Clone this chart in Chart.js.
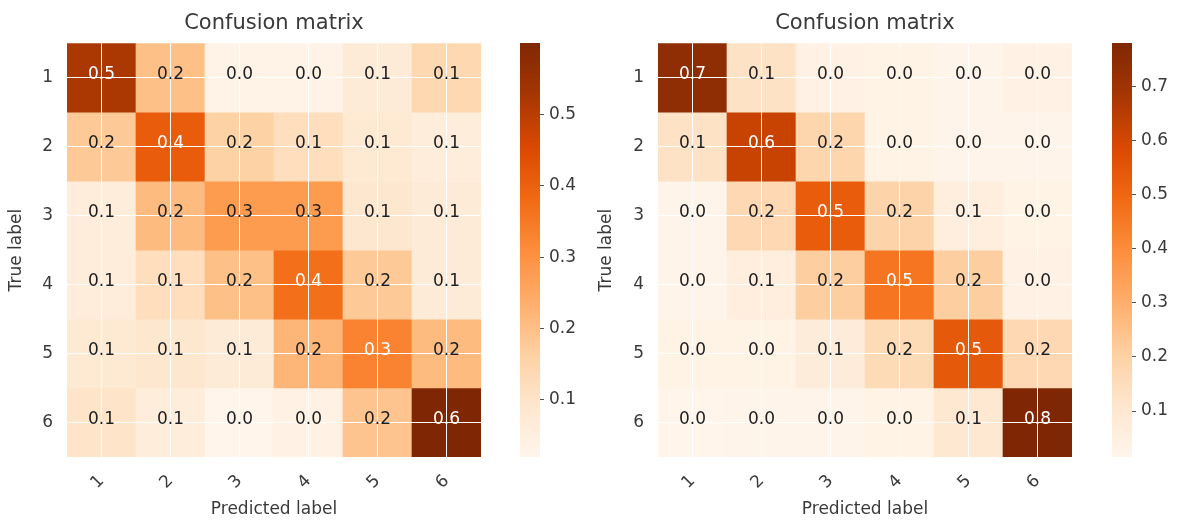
<!DOCTYPE html>
<html lang="en">
<head>
<meta charset="utf-8">
<title>Confusion matrix</title>
<script src="https://cdn.jsdelivr.net/npm/chart.js@4.4.1/dist/chart.umd.min.js"></script>
<style>
  html, body { margin: 0; padding: 0; background: #fff; }
  #wrap { position: relative; width: 1177px; height: 520px; overflow: hidden; }
  .box { position: absolute; top: 0; height: 520px; }
</style>
</head>
<body>
<div id="wrap">
  <div class="box" style="left:0;width:548px"><canvas id="cmLeft"></canvas></div>
  <div class="box" style="left:590px;width:550px"><canvas id="cmRight"></canvas></div>
  <div class="box" style="left:500px;width:85px"><canvas id="cbLeft"></canvas></div>
  <div class="box" style="left:1090px;width:87px"><canvas id="cbRight"></canvas></div>
</div>
<script>
// ======================= DATA =======================
const classLabels = ['1', '2', '3', '4', '5', '6'];
const titleText = 'Confusion matrix';
const xAxisLabel = 'Predicted label';
const yAxisLabel = 'True label';

// rows = true label, columns = predicted label (normalized)
const cmLeft = [
  [0.52, 0.20, 0.03, 0.03, 0.07, 0.14],
  [0.18, 0.41, 0.16, 0.12, 0.08, 0.06],
  [0.06, 0.21, 0.28, 0.28, 0.09, 0.07],
  [0.06, 0.12, 0.20, 0.37, 0.18, 0.07],
  [0.08, 0.09, 0.07, 0.22, 0.33, 0.21],
  [0.10, 0.06, 0.02, 0.04, 0.19, 0.60]
];
const cmRight = [
  [0.74, 0.13, 0.04, 0.03, 0.02, 0.04],
  [0.13, 0.62, 0.18, 0.03, 0.02, 0.02],
  [0.02, 0.17, 0.53, 0.19, 0.06, 0.03],
  [0.02, 0.06, 0.21, 0.46, 0.21, 0.04],
  [0.03, 0.03, 0.07, 0.16, 0.54, 0.17],
  [0.015, 0.02, 0.02, 0.03, 0.10, 0.78]
];
const cbTicksLeft = [0.1, 0.2, 0.3, 0.4, 0.5];
const cbTicksRight = [0.1, 0.2, 0.3, 0.4, 0.5, 0.6, 0.7];

// ======================= STYLE =======================
const FONT = "'DejaVu Sans', sans-serif";
const TEXT_COLOR = '#3a3a3a';
const orangesStops = ['#fff5eb', '#fee6ce', '#fdd0a2', '#fdae6b', '#fd8d3c', '#f16913', '#d94801', '#a63603', '#7f2704'];

const hexToRgb = h => [1, 3, 5].map(i => parseInt(h.slice(i, i + 2), 16));
const orangeAt = t => {
  t = Math.min(1, Math.max(0, t));
  const pos = t * (orangesStops.length - 1);
  const i = Math.min(Math.floor(pos), orangesStops.length - 2);
  const f = pos - i;
  const a = hexToRgb(orangesStops[i]);
  const b = hexToRgb(orangesStops[i + 1]);
  const c = a.map((v, k) => Math.round(v + (b[k] - v) * f));
  return `rgb(${c.join(',')})`;
};

// ======================= CELL TEXT PLUGIN =======================
const cellText = {
  id: 'cellText',
  afterDraw(chart, args, opts) {
    const { ctx } = chart;
    const yScale = chart.scales.y;
    ctx.save();
    ctx.font = `17px ${FONT}`;
    ctx.textAlign = 'center';
    ctx.textBaseline = 'alphabetic';
    opts.matrix.forEach((row, r) => {
      const meta = chart.getDatasetMeta(r);
      row.forEach((v, c) => {
        const el = meta.data[c];
        const cy = yScale.getPixelForValue(r + 1);
        ctx.fillStyle = v > opts.thresh ? '#ffffff' : '#1e1e1e';
        ctx.fillText(v.toFixed(1), el.x, cy + 1);
      });
    });
    ctx.restore();
  }
};

// ======================= HEATMAP =======================
function renderMatrix(canvasId, matrix, frame) {
  const flat = matrix.flat();
  const vmin = Math.min(...flat);
  const vmax = Math.max(...flat);

  const datasets = matrix.map((row, r) => ({
    label: classLabels[r],
    data: row.map(() => [r + 0.5, r + 1.5]),
    backgroundColor: row.map(v => orangeAt((v - vmin) / (vmax - vmin))),
    borderWidth: 0,
    grouped: false,
    barPercentage: 1,
    categoryPercentage: 1
  }));

  const font = { family: FONT, size: 17 };

  return new Chart(document.getElementById(canvasId), {
    type: 'bar',
    data: { labels: classLabels, datasets },
    options: {
      responsive: true,
      maintainAspectRatio: false,
      animation: false,
      layout: { padding: 0 },
      plugins: {
        legend: { display: false },
        tooltip: { enabled: false },
        title: {
          display: true, text: titleText, color: TEXT_COLOR,
          font: { family: FONT, size: 21, weight: 'normal' },
          padding: { top: 11, bottom: 7 }
        },
        cellText: { matrix, thresh: vmax / 2 }
      },
      scales: {
        x: {
          grid: { offset: false, color: '#ffffff', lineWidth: 1, drawTicks: false, z: 1 },
          border: { display: false },
          ticks: { color: TEXT_COLOR, font, minRotation: 45, maxRotation: 45, padding: 14 },
          title: { display: true, text: xAxisLabel, color: TEXT_COLOR, font, padding: { top: 0, bottom: 0 } },
          afterFit: s => { s.height = frame.xHeight; }
        },
        y: {
          min: 0.5, max: 6.5, reverse: true,
          afterBuildTicks: s => { s.ticks = classLabels.map((_, i) => ({ value: i + 1 })); },
          ticks: { color: TEXT_COLOR, font, padding: 14, callback: v => classLabels[v - 1] },
          grid: { color: '#ffffff', lineWidth: 1, drawTicks: false, z: 1 },
          border: { display: false },
          title: { display: true, text: yAxisLabel, color: TEXT_COLOR, font, padding: { top: 6, bottom: 0 } },
          afterFit: s => { s.width = frame.yWidth; }
        },
        // empty spacer on the right so the title centres over the cells
        yPad: {
          position: 'right',
          grid: { display: false },
          ticks: { display: false },
          border: { display: false },
          afterFit: s => { s.width = frame.yWidth; }
        }
      }
    },
    plugins: [cellText]
  });
}

// ======================= COLORBAR =======================
function renderColorbar(canvasId, matrix, tickValues, frame) {
  const flat = matrix.flat();
  const vmin = Math.min(...flat);
  const vmax = Math.max(...flat);

  const gradientFill = ctx => {
    const area = ctx.chart.chartArea;
    if (!area) return orangesStops[4];
    const g = ctx.chart.ctx.createLinearGradient(0, area.bottom, 0, area.top);
    orangesStops.forEach((c, i) => g.addColorStop(i / (orangesStops.length - 1), c));
    return g;
  };

  return new Chart(document.getElementById(canvasId), {
    type: 'bar',
    data: {
      labels: [''],
      datasets: [{ data: [[vmin, vmax]], backgroundColor: gradientFill, borderWidth: 0, barPercentage: 1, categoryPercentage: 1 }]
    },
    options: {
      responsive: true,
      maintainAspectRatio: false,
      animation: false,
      layout: { padding: { left: frame.left, right: 0, top: 43, bottom: 63 } },
      plugins: { legend: { display: false }, tooltip: { enabled: false } },
      scales: {
        x: { display: false },
        y: {
          position: 'right', min: vmin, max: vmax,
          afterBuildTicks: s => { s.ticks = tickValues.map(v => ({ value: v })); },
          ticks: { color: TEXT_COLOR, font: { family: FONT, size: 17 }, padding: 5, callback: v => v.toFixed(1) },
          grid: { drawOnChartArea: false, drawTicks: true, tickLength: 4, tickColor: '#555', tickWidth: 1 },
          border: { display: false },
          afterFit: s => { s.width = frame.yWidth; }
        }
      }
    }
  });
}

// ======================= INIT =======================
renderMatrix('cmLeft', cmLeft, { yWidth: 67, xHeight: 63 });
renderMatrix('cmRight', cmRight, { yWidth: 68, xHeight: 63 });
renderColorbar('cbLeft', cmLeft, cbTicksLeft, { left: 20, yWidth: 45 });
renderColorbar('cbRight', cmRight, cbTicksRight, { left: 22, yWidth: 45 });
</script>
</body>
</html>
